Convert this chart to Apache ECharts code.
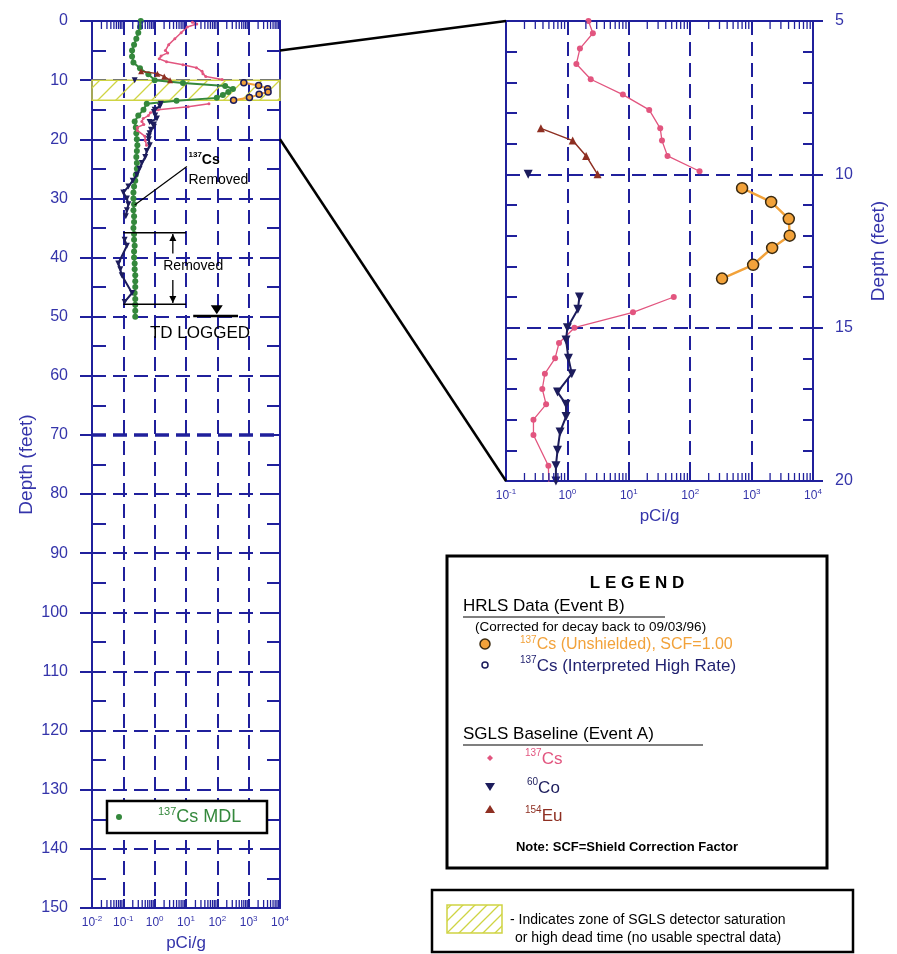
<!DOCTYPE html>
<html>
<head>
<meta charset="utf-8">
<script src="https://cdn.jsdelivr.net/npm/echarts@6/dist/echarts.min.js"></script>
<style>
html,body{margin:0;padding:0;background:#fff}
#chart{width:897px;height:954px}
</style>
</head>
<body>
<div id="chart"></div>
<script>
//SGLS 137Cs (Event A)，深度ft / pCi/g，null表示断线
var cs137Depth = [0.2, 0.5, 1, 2, 3, 4, 5.0, 5.4, 5.9, 6.4, 6.9, 7.4, 7.9, 8.5, 8.9, 9.4, 9.9, null, 14.0, 14.5, 15.0, 15.5, 16.0, 16.5, 17.0, 17.5, 18.0, 18.5, 19.5, 20.2, 21.0];
var cs137Value = [16, 22, 11, 7, 4.4, 2.8, 2.2, 2.6, 1.6, 1.4, 2.4, 8.0, 21.5, 32.5, 34.7, 42.7, 142, null, 54, 11.7, 1.3, 0.73, 0.63, 0.43, 0.39, 0.45, 0.28, 0.28, 0.49, 0.5, 0.55];
//SGLS 60Co
var co60Depth = [10.0, null, 14.0, 14.4, 15.0, 15.4, 16.0, 16.5, 17.1, 17.5, 17.9, 18.4, 19.0, 19.5, 20.0, 21, 22, 23, 24, 25, 26, 27, 28, 29, 30, 31, 32, 33, null, 37, 38, 41, 42, 43, 46, 47.5];
var co60Value = [0.23, null, 1.57, 1.48, 1.0, 0.95, 1.04, 1.18, 0.69, 0.95, 0.95, 0.76, 0.69, 0.65, 0.65, 0.7, 0.56, 0.5, 0.39, 0.33, 0.27, 0.2, 0.145, 0.1, 0.13, 0.145, 0.13, 0.12, null, 0.11, 0.13, 0.069, 0.08, 0.089, 0.19, 0.11];
//SGLS 154Eu
var eu154Depth = [8.5, 8.9, 9.4, 10.0];
var eu154Value = [0.37, 1.22, 2.02, 3.1];
//HRLS 137Cs (Unshielded)
var hrlsDepth = [10.45, 10.9, 11.45, 12.0, 12.4, 12.95, 13.4];
var hrlsValue = [700, 2080, 4030, 4170, 2160, 1060, 330];
//137Cs MDL
var mdlDepth = [0, 1, 2, 3, 4, 5, 6, 7, 8, 9, 10, 10.5, 11, 11.5, 12, 12.5, 13, 13.5, 14, 15, 16, 17, 18, 19, 20, 21, 22, 23, 24, 25, 26, 27, 28, 29, 30, 31, 32, 33, 34, 35, 36, 37, 38, 39, 40, 41, 42, 43, 44, 45, 46, 47, 48, 49, 50];
var mdlValue = [0.36, 0.34, 0.30, 0.26, 0.22, 0.19, 0.19, 0.21, 0.34, 0.63, 1.0, 8, 178, 316, 224, 150, 96, 5, 0.56, 0.44, 0.30, 0.23, 0.25, 0.26, 0.27, 0.28, 0.27, 0.26, 0.27, 0.27, 0.25, 0.24, 0.22, 0.21, 0.21, 0.22, 0.21, 0.22, 0.22, 0.21, 0.22, 0.22, 0.23, 0.22, 0.22, 0.23, 0.23, 0.24, 0.24, 0.24, 0.23, 0.24, 0.24, 0.24, 0.24];
//检测器饱和区间
var saturationZone = [10, 13.4];
//对数刻度的次刻度倍数
var minorMultipliers = [2, 3, 4, 5, 6, 7, 8, 9];
var leftDecades = [-2, -1, 0, 1, 2, 3];
var rightDecades = [-1, 0, 1, 2, 3];

var FONT = '"Liberation Sans", Arial, Helvetica, sans-serif';
var AXIS = '#20209c';
var LABEL = '#3434aa';
var PINK = '#e2557f';
var NAVY = '#1c1c5c';
var BROWN = '#8e2f22';
var ORANGE = '#f2a23a';
var GREEN = '#34883c';
var HATCH = '#cfd443';

function toPairs(depth, value)
{
	var out = [];
	for (var i = 0; i < depth.length; i++)
	{
		if (depth[i] == null || value[i] == null) out.push(['-', '-']);
		else out.push([value[i], depth[i]]);
	}
	return out;
}

//10的幂标签，指数用rich文本上标
function powLabel(v)
{
	var e = Math.round(Math.log(v) / Math.LN10);
	return '{b|10}{s|' + e + '}';
}

function minorTicks(decades)
{
	var out = [];
	for (var i = 0; i < decades.length; i++)
		for (var j = 0; j < minorMultipliers.length; j++)
			out.push([minorMultipliers[j] * Math.pow(10, decades[i]), 0]);
	return out;
}

//斜线填充
function hatchPattern(size)
{
	var c = document.createElement('canvas');
	c.width = c.height = size;
	var g = c.getContext('2d');
	g.strokeStyle = HATCH;
	g.lineWidth = 1.3;
	g.beginPath();
	g.moveTo(0, size); g.lineTo(size, 0);
	g.moveTo(-2, 2); g.lineTo(2, -2);
	g.moveTo(size - 2, size + 2); g.lineTo(size + 2, size - 2);
	g.stroke();
	return {image: c, repeat: 'repeat'};
}

function logX(gi, min, max, pos, withLabel)
{
	return {
		gridIndex: gi, type: 'log', logBase: 10, min: min, max: max, position: pos,
		axisLine: {show: true, onZero: false, lineStyle: {color: AXIS, width: 2}},
		axisTick: {show: true, inside: true, length: 9, lineStyle: {color: AXIS, width: 2}},
		axisLabel: {
			show: withLabel, formatter: powLabel, color: LABEL, fontFamily: FONT, margin: 7,
			rich: {
				b: {fontSize: 12, color: LABEL, fontFamily: FONT, lineHeight: 16},
				s: {fontSize: 8, color: LABEL, fontFamily: FONT, verticalAlign: 'top'}
			}
		},
		splitLine: {show: withLabel, lineStyle: {color: AXIS, width: 2, type: [14, 7]}},
		name: withLabel ? 'pCi/g' : '', nameLocation: 'middle', nameGap: 27,
		nameTextStyle: {color: LABEL, fontSize: 17, fontFamily: FONT}
	};
}

//只画内侧刻度的辅助y轴
function tickY(gi, min, max, interval, pos, len)
{
	return {
		gridIndex: gi, type: 'value', inverse: true, min: min, max: max, interval: interval, position: pos,
		axisLine: {show: true, lineStyle: {color: AXIS, width: 2}},
		axisTick: {show: true, inside: true, length: len, lineStyle: {color: AXIS, width: 2}},
		axisLabel: {show: false}, splitLine: {show: false}
	};
}

function mainY(gi, min, max, interval, pos, nameGap)
{
	return {
		gridIndex: gi, type: 'value', inverse: true, min: min, max: max, interval: interval, position: pos,
		axisLine: {show: true, lineStyle: {color: AXIS, width: 2}},
		axisTick: {show: true, inside: false, length: pos == 'left' ? 12 : 10, lineStyle: {color: AXIS, width: 2}},
		axisLabel: {color: LABEL, fontSize: 16, fontFamily: FONT, margin: pos == 'left' ? 24 : 22},
		splitLine: {show: true, lineStyle: {color: AXIS, width: 2, type: [14, 7]}},
		name: 'Depth (feet)', nameLocation: 'middle', nameGap: nameGap, nameRotate: 90,
		nameTextStyle: {color: LABEL, fontSize: 19, fontFamily: FONT}
	};
}

function lineSeries(name, xi, yi, depth, value, sym)
{
	return {
		name: name, type: 'line', xAxisIndex: xi, yAxisIndex: yi,
		data: toPairs(depth, value),
		symbol: sym.symbol, symbolSize: sym.size, symbolRotate: sym.rotate || 0,
		itemStyle: {color: sym.color, borderColor: sym.border || sym.color, borderWidth: sym.border ? 1.5 : 0},
		lineStyle: {color: sym.lineColor || sym.color, width: sym.width},
		z: sym.z || 3, silent: true
	};
}

function tickSeries(xi, yi, decades)
{
	return {
		type: 'custom', xAxisIndex: xi, yAxisIndex: yi, silent: true, clip: false, z: 10,
		data: minorTicks(decades),
		renderItem: function(params, api)
		{
			var cs = params.coordSys;
			var x = api.coord([api.value(0), api.value(1)])[0];
			var st = {stroke: AXIS, lineWidth: 1.3};
			return {type: 'group', children: [
				{type: 'line', shape: {x1: x, y1: cs.y, x2: x, y2: cs.y + 8}, style: st},
				{type: 'line', shape: {x1: x, y1: cs.y + cs.height, x2: x, y2: cs.y + cs.height - 8}, style: st}
			]};
		}
	};
}

var chart = echarts.init(document.getElementById('chart'), null, {renderer: 'canvas'});

var option = {
	animation: false,
	backgroundColor: '#fff',
	textStyle: {fontFamily: FONT},
	grid: [
		{left: 92, top: 21, width: 188, height: 887, outerBoundsMode: 'none'},
		{left: 506, top: 21, width: 307, height: 460, outerBoundsMode: 'none'}
	],
	xAxis: [
		logX(0, 0.01, 10000, 'bottom', true),
		logX(0, 0.01, 10000, 'top', false),
		logX(1, 0.1, 10000, 'bottom', true),
		logX(1, 0.1, 10000, 'top', false)
	],
	yAxis: [
		mainY(0, 0, 150, 10, 'left', 56),
		tickY(0, 0, 150, 5, 'left', 14),
		tickY(0, 0, 150, 5, 'right', 13),
		mainY(1, 5, 20, 5, 'right', 56),
		tickY(1, 5, 20, 1, 'right', 10),
		tickY(1, 5, 20, 1, 'left', 11)
	],
	series: []
};

var mdl = lineSeries('137Cs MDL', 0, 0, mdlDepth, mdlValue, {symbol: 'circle', size: 6, color: GREEN, width: 2, z: 2});
mdl.markArea = {
	silent: true,
	itemStyle: {color: hatchPattern(18), borderColor: HATCH, borderWidth: 1.5},
	data: [[{yAxis: saturationZone[0]}, {yAxis: saturationZone[1]}]]
};
mdl.markLine = {
	silent: true, symbol: 'none', label: {show: false},
	lineStyle: {color: AXIS, width: 3.5, type: [14, 7]},
	data: [{yAxis: 70}]
};
option.series.push(mdl);
//左图
option.series.push(lineSeries('137Cs', 0, 0, cs137Depth, cs137Value, {symbol: 'circle', size: 3, color: PINK, width: 1.5, z: 4}));
option.series.push(lineSeries('60Co', 0, 0, co60Depth, co60Value, {symbol: 'triangle', rotate: 180, size: 6, color: NAVY, width: 2, z: 5}));
option.series.push(lineSeries('154Eu', 0, 0, eu154Depth, eu154Value, {symbol: 'triangle', size: 6, color: BROWN, width: 1.5, z: 5}));
option.series.push(lineSeries('HRLS', 0, 0, hrlsDepth, hrlsValue, {symbol: 'circle', size: 6, color: ORANGE, border: NAVY, lineColor: ORANGE, width: 2, z: 6}));
option.series.push(tickSeries(1, 0, leftDecades));
//右图（5-20 ft 放大）
option.series.push(lineSeries('137Cs', 2, 3, cs137Depth, cs137Value, {symbol: 'circle', size: 6, color: PINK, width: 1.3, z: 4}));
option.series.push(lineSeries('60Co', 2, 3, co60Depth, co60Value, {symbol: 'triangle', rotate: 180, size: 9, color: NAVY, width: 2, z: 5}));
option.series.push(lineSeries('154Eu', 2, 3, eu154Depth, eu154Value, {symbol: 'triangle', size: 8, color: BROWN, width: 1.5, z: 5}));
option.series.push(lineSeries('HRLS', 2, 3, hrlsDepth, hrlsValue, {symbol: 'circle', size: 11, color: ORANGE, border: '#3a2a10', lineColor: ORANGE, width: 2.5, z: 6}));
option.series.push(tickSeries(3, 3, rightDecades));

chart.setOption(option);

//注释、连线和图例都用graphic画
function px(xi, yi, x, y)
{
	return chart.convertToPixel({xAxisIndex: xi, yAxisIndex: yi}, [x, y]);
}
function seg(a, b, w, color)
{
	return {type: 'line', shape: {x1: a[0], y1: a[1], x2: b[0], y2: b[1]}, style: {stroke: color || '#000', lineWidth: w || 1.5}, z: 100};
}
//文本，{s|..}为上标，{n|..}为正文
function txt(x, y, str, opt)
{
	var size = (opt && opt.fontSize) || 14;
	var fill = (opt && opt.fill) || '#000';
	var weight = (opt && opt.fontWeight) || 'normal';
	var st = {
		text: str, fontFamily: FONT, fontSize: size, fill: fill, align: 'left', verticalAlign: 'middle',
		rich: {
			n: {fontSize: size, fill: fill, fontFamily: FONT, fontWeight: weight, lineHeight: size + 4},
			s: {fontSize: Math.round(size * 0.6), fill: fill, fontFamily: FONT, fontWeight: weight, verticalAlign: 'top'}
		}
	};
	for (var k in opt) st[k] = opt[k];
	return {type: 'text', x: x, y: y, style: st, z: 101};
}
function arrow(from, to)
{
	var dir = to[1] > from[1] ? 1 : -1;
	return [
		seg(from, to, 1.3),
		{type: 'polygon', shape: {points: [[to[0] - 3.5, to[1] - dir * 7], [to[0] + 3.5, to[1] - dir * 7], [to[0], to[1]]]}, style: {fill: '#000'}, z: 100}
	];
}

var g = [];
//放大区间连线
g.push(seg(px(0, 0, 10000, 5), px(2, 3, 0.1, 5), 2.5));
g.push(seg(px(0, 0, 10000, 20), px(2, 3, 0.1, 20), 2.5));
//137Cs Removed
var p = px(0, 0, 12, 23.5);
g.push(txt(p[0], p[1], '{s|137}{n|Cs}', {fontSize: 14, fontWeight: 'bold'}));
p = px(0, 0, 12, 26.9);
g.push(txt(p[0], p[1], 'Removed', {fontSize: 14}));
g.push(seg(px(0, 0, 10.7, 24.6), px(0, 0, 0.23, 31.1), 1.2));
//Removed 区间
g.push(seg(px(0, 0, 0.1, 35.8), px(0, 0, 10, 35.8), 1.5));
g.push(seg(px(0, 0, 0.1, 47.9), px(0, 0, 10, 47.9), 1.5));
g = g.concat(arrow(px(0, 0, 3.8, 39.3), px(0, 0, 3.8, 36.0)));
g = g.concat(arrow(px(0, 0, 3.8, 43.8), px(0, 0, 3.8, 47.7)));
p = px(0, 0, 17, 41.5);
g.push(txt(p[0], p[1], 'Removed', {fontSize: 14, align: 'center'}));
//TD LOGGED
var tri = px(0, 0, 96, 49.6);
g.push({type: 'polygon', shape: {points: [[tri[0] - 6, tri[1] - 9], [tri[0] + 6, tri[1] - 9], [tri[0], tri[1]]]}, style: {fill: '#000'}, z: 100});
g.push(seg(px(0, 0, 17, 49.9), px(0, 0, 457, 49.9), 2.5));
p = px(0, 0, 28, 52.8);
g.push(txt(p[0], p[1], 'TD LOGGED', {fontSize: 17, align: 'center'}));

//MDL 图例框
g.push({type: 'rect', shape: {x: 107, y: 801, width: 160, height: 32}, style: {fill: '#fff', stroke: '#000', lineWidth: 2.5}, z: 99});
g.push({type: 'circle', shape: {cx: 119, cy: 817, r: 3}, style: {fill: GREEN}, z: 101});
g.push(txt(158, 817, '{s|137}{n|Cs MDL}', {fontSize: 18, fill: GREEN}));

//LEGEND 框
g.push({type: 'rect', shape: {x: 447, y: 556, width: 380, height: 312}, style: {fill: '#fff', stroke: '#000', lineWidth: 3}, z: 99});
g.push(txt(637, 583, 'L E G E N D', {fontSize: 17, fontWeight: 'bold', align: 'center'}));
g.push(txt(463, 606, 'HRLS Data (Event B)', {fontSize: 17}));
g.push(seg([463, 617], [665, 617], 1.2));
g.push(txt(475, 627, '(Corrected for decay back to 09/03/96)', {fontSize: 13.5}));
g.push({type: 'circle', shape: {cx: 485, cy: 644, r: 5}, style: {fill: ORANGE, stroke: '#3a2a10', lineWidth: 1.5}, z: 101});
g.push(txt(520, 645, '{s|137}{n|Cs (Unshielded), SCF=1.00}', {fontSize: 16, fill: ORANGE}));
g.push({type: 'circle', shape: {cx: 485, cy: 665, r: 3}, style: {fill: '#fff', stroke: NAVY, lineWidth: 1.5}, z: 101});
g.push(txt(520, 666, '{s|137}{n|Cs (Interpreted High Rate)}', {fontSize: 17, fill: '#1f1f6e'}));
g.push(txt(463, 734, 'SGLS Baseline (Event A)', {fontSize: 17}));
g.push(seg([463, 745], [703, 745], 1.2));
g.push({type: 'polygon', shape: {points: [[487, 758], [490, 755], [493, 758], [490, 761]]}, style: {fill: PINK}, z: 101});
g.push(txt(525, 759, '{s|137}{n|Cs}', {fontSize: 17, fill: PINK}));
g.push({type: 'polygon', shape: {points: [[485, 783], [495, 783], [490, 791]]}, style: {fill: NAVY}, z: 101});
g.push(txt(527, 788, '{s|60}{n|Co}', {fontSize: 17, fill: NAVY}));
g.push({type: 'polygon', shape: {points: [[485, 813], [495, 813], [490, 805]]}, style: {fill: BROWN}, z: 101});
g.push(txt(525, 816, '{s|154}{n|Eu}', {fontSize: 17, fill: BROWN}));
g.push(txt(627, 847, 'Note: SCF=Shield Correction Factor', {fontSize: 13, fontWeight: 'bold', align: 'center'}));

//饱和区图例框
g.push({type: 'rect', shape: {x: 432, y: 890, width: 421, height: 62}, style: {fill: '#fff', stroke: '#000', lineWidth: 2.5}, z: 99});
g.push({type: 'rect', shape: {x: 447, y: 905, width: 55, height: 28}, style: {fill: hatchPattern(12), stroke: HATCH, lineWidth: 1.5}, z: 101});
g.push(txt(510, 920, '- Indicates zone of SGLS detector saturation', {fontSize: 14}));
g.push(txt(515, 938, 'or high dead time (no usable spectral data)', {fontSize: 14}));

chart.setOption({graphic: {elements: g}});
</script>
</body>
</html>
